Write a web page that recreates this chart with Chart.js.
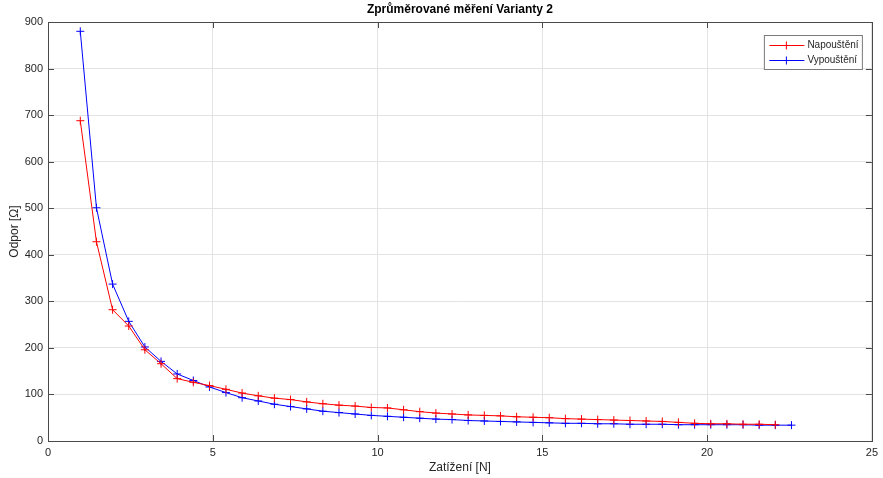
<!DOCTYPE html>
<html>
<head>
<meta charset="utf-8">
<script src="https://cdn.jsdelivr.net/npm/chart.js@4/dist/chart.umd.min.js"></script>
<style>
  html, body { margin: 0; padding: 0; background: #fff; }
  #wrap { width: 883px; height: 478px; }
</style>
</head>
<body>
<div id="wrap"><canvas id="c"></canvas></div>
<script>
// zatížení [N] (krok 50 g)
const zatizeni = [0.98, 1.47, 1.96, 2.45, 2.94, 3.43, 3.92, 4.41, 4.90, 5.40,
  5.89, 6.38, 6.87, 7.36, 7.85, 8.34, 8.83, 9.32, 9.81, 10.30,
  10.79, 11.28, 11.77, 12.26, 12.75, 13.24, 13.73, 14.22, 14.72, 15.21,
  15.70, 16.19, 16.68, 17.17, 17.66, 18.15, 18.64, 19.13, 19.62, 20.11,
  20.60, 21.09, 21.58, 22.07, 22.56];

// odpor [Ω]
const napousteni = [688, 428, 282, 247, 196, 166, 134, 126, 119, 111,
  103, 97, 92, 89, 84, 80, 77, 75, 72, 71,
  67, 63, 60, 58, 56, 55, 54, 52, 51, 50,
  48, 47, 46, 45, 44, 43, 42, 40, 38, 37,
  37, 36, 36, 35];
const vypousteni = [880, 501, 337, 257, 202, 171, 144, 130, 116, 104,
  93, 86, 79, 74, 69, 64, 61, 58, 55, 53,
  51, 49, 47, 46, 44, 43, 42, 41, 40, 39,
  38, 38, 37, 37, 36, 36, 36, 35, 35, 35,
  35, 35, 34, 34, 34];

const xTicks = [0, 5, 10, 15, 20, 25];
const yTicks = [0, 100, 200, 300, 400, 500, 600, 700, 800, 900];

const nadpis = 'Zprůměrované měření Varianty 2';

const FONT = 'Liberation Sans, Arial, sans-serif';
const TXT = '#262626';

function toPoints(ys) {
  return ys.map((y, i) => ({ x: zatizeni[i], y }));
}

// rámeček osy + vnitřní tiky jako v MATLABu
const frame = {
  id: 'frame',
  afterDatasetsDraw(chart) {
    const { ctx, chartArea: a, scales } = chart;
    ctx.save();
    ctx.strokeStyle = '#4a4a4a';
    ctx.lineWidth = 1;
    ctx.beginPath();
    for (const t of scales.x.ticks) {
      const px = Math.round(scales.x.getPixelForValue(t.value)) + 0.5;
      ctx.moveTo(px, a.bottom); ctx.lineTo(px, a.bottom - 6);
      ctx.moveTo(px, a.top); ctx.lineTo(px, a.top + 6);
    }
    for (const t of scales.y.ticks) {
      const py = Math.round(scales.y.getPixelForValue(t.value)) + 0.5;
      ctx.moveTo(a.left, py); ctx.lineTo(a.left + 6, py);
      ctx.moveTo(a.right, py); ctx.lineTo(a.right - 6, py);
    }
    ctx.stroke();
    ctx.strokeRect(Math.round(a.left) + 0.5, Math.round(a.top) + 0.5,
      Math.round(a.right - a.left), Math.round(a.bottom - a.top));

    // nadpis vycentrovaný nad osami
    ctx.fillStyle = '#000';
    ctx.font = 'bold 12px ' + FONT;
    ctx.textAlign = 'center';
    ctx.textBaseline = 'middle';
    ctx.fillText(nadpis, (a.left + a.right) / 2, 10);
    ctx.restore();
  }
};

// legenda uvnitř grafu (vpravo nahoře)
const innerLegend = {
  id: 'innerLegend',
  afterDraw(chart) {
    const { ctx, chartArea: a } = chart;
    const w = 98, h = 34;
    const x0 = a.right - 107.5, y0 = a.top + 13.5;
    ctx.save();
    ctx.fillStyle = '#fff';
    ctx.fillRect(x0, y0, w, h);
    ctx.strokeStyle = '#7a7a7a';
    ctx.lineWidth = 1;
    ctx.strokeRect(x0, y0, w, h);
    ctx.font = '10px ' + FONT;
    ctx.textBaseline = 'middle';
    chart.data.datasets.forEach((ds, i) => {
      const cy = Math.round(y0 + 9 + i * 15) + 0.5;
      ctx.strokeStyle = ds.borderColor;
      ctx.beginPath();
      ctx.moveTo(x0 + 5, cy); ctx.lineTo(x0 + 40, cy);
      ctx.moveTo(x0 + 22, cy - 4); ctx.lineTo(x0 + 22, cy + 4);
      ctx.stroke();
      ctx.fillStyle = TXT;
      ctx.fillText(ds.label, x0 + 43, cy);
    });
    ctx.restore();
  }
};

new Chart(document.getElementById('c'), {
  type: 'scatter',
  data: {
    datasets: [
      {
        label: 'Napouštění',
        data: toPoints(napousteni),
        showLine: true,
        borderColor: '#ff0000',
        backgroundColor: '#ff0000',
        borderWidth: 1,
        pointStyle: 'cross',
        pointRadius: 4,
        pointBorderWidth: 1
      },
      {
        label: 'Vypouštění',
        data: toPoints(vypousteni),
        showLine: true,
        borderColor: '#0000ff',
        backgroundColor: '#0000ff',
        borderWidth: 1,
        pointStyle: 'cross',
        pointRadius: 4,
        pointBorderWidth: 1
      }
    ]
  },
  options: {
    responsive: true,
    maintainAspectRatio: false,
    animation: false,
    events: [],
    layout: { padding: { left: 0, right: 9, top: 22, bottom: 0 } },
    plugins: {
      legend: { display: false },
      tooltip: { enabled: false },
      title: { display: false }
    },
    scales: {
      x: {
        type: 'linear',
        min: 0,
        max: 25,
        afterBuildTicks: s => { s.ticks = xTicks.map(v => ({ value: v })); },
        afterFit: s => { s.height = 37; },
        grid: { color: '#e3e3e3', drawTicks: false },
        border: { display: false },
        ticks: { color: TXT, padding: 5, font: { family: FONT, size: 11 } },
        title: {
          display: true,
          text: 'Zatížení [N]',
          color: TXT,
          font: { family: FONT, size: 12 },
          padding: { top: 2, bottom: 3 }
        }
      },
      y: {
        type: 'linear',
        min: 0,
        max: 900,
        afterBuildTicks: s => { s.ticks = yTicks.map(v => ({ value: v })); },
        afterFit: s => { s.width = 48; },
        grid: { color: '#e3e3e3', drawTicks: false },
        border: { display: false },
        ticks: { color: TXT, padding: 5, font: { family: FONT, size: 11 } },
        title: {
          display: true,
          text: 'Odpor [Ω]',
          color: TXT,
          font: { family: FONT, size: 12 },
          padding: { top: 7, bottom: 0 }
        }
      }
    }
  },
  plugins: [frame, innerLegend]
});
</script>
</body>
</html>
